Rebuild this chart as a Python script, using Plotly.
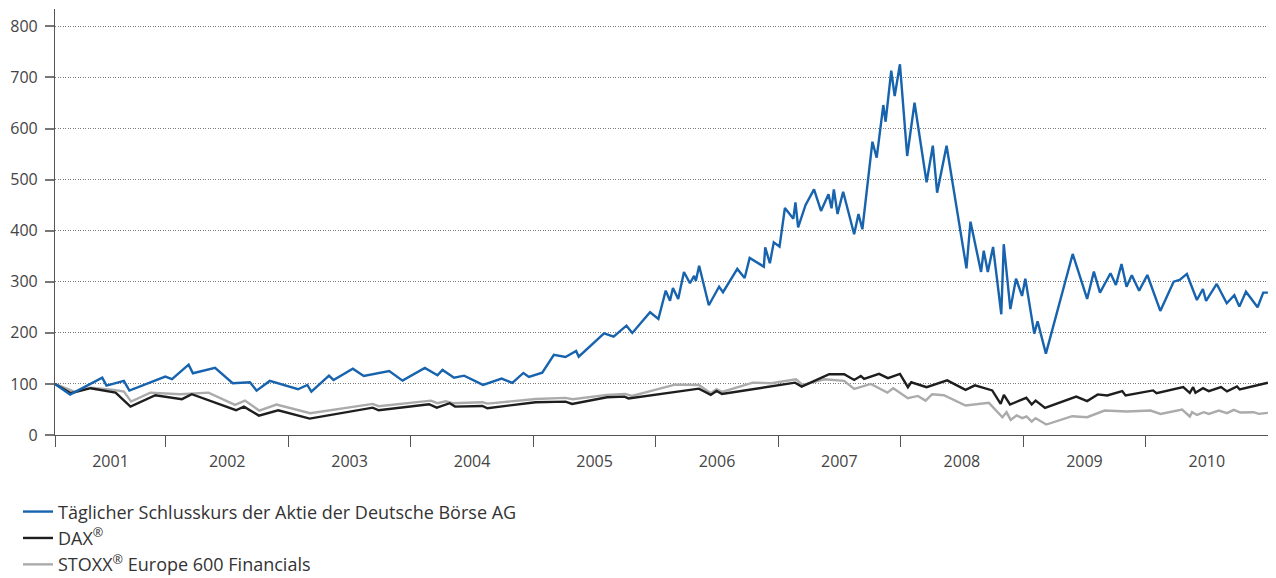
import datetime as dt
import plotly.graph_objects as go

# ---- data (decimal year, index value; 05.02.2001 = 100) ----
db_t = [2001.093, 2001.217, 2001.290, 2001.479, 2001.514, 2001.656, 2001.701, 2001.994, 2002.049, 2002.185,
        2002.220, 2002.401, 2002.545, 2002.686, 2002.740, 2002.848, 2003.079, 2003.155, 2003.188, 2003.332,
        2003.369, 2003.527, 2003.616, 2003.824, 2003.933, 2004.115, 2004.218, 2004.259, 2004.353, 2004.435,
        2004.589, 2004.741, 2004.828, 2004.918, 2004.963, 2005.072, 2005.167, 2005.262, 2005.349, 2005.370,
        2005.577, 2005.655, 2005.760, 2005.808, 2005.953, 2006.021, 2006.081, 2006.116, 2006.140, 2006.183,
        2006.230, 2006.279, 2006.313, 2006.327, 2006.354, 2006.433, 2006.517, 2006.549, 2006.666, 2006.726,
        2006.767, 2006.883, 2006.894, 2006.932, 2006.964, 2007.011, 2007.055, 2007.124, 2007.141, 2007.163,
        2007.224, 2007.293, 2007.350, 2007.411, 2007.436, 2007.455, 2007.485, 2007.531, 2007.621, 2007.656,
        2007.688, 2007.770, 2007.805, 2007.859, 2007.878, 2007.924, 2007.952, 2007.995, 2008.054, 2008.114,
        2008.212, 2008.263, 2008.298, 2008.375, 2008.537, 2008.570, 2008.656, 2008.678, 2008.711, 2008.754,
        2008.821, 2008.841, 2008.895, 2008.941, 2008.990, 2009.017, 2009.090, 2009.117, 2009.185, 2009.404,
        2009.522, 2009.577, 2009.627, 2009.713, 2009.757, 2009.803, 2009.844, 2009.887, 2009.947, 2010.014,
        2010.120, 2010.229, 2010.278, 2010.337, 2010.419, 2010.468, 2010.494, 2010.581, 2010.663, 2010.725,
        2010.766, 2010.820, 2010.915, 2010.961, 2010.999]
db_v = [100, 79.1, 88.3, 112.3, 96.7, 105.9, 86.9, 114.3, 109.2, 137.8,
        120.9, 131.3, 101.4, 103.3, 86.9, 105.9, 89.6, 98.0, 84.9, 116.2,
        107.8, 129.9, 115.7, 125.4, 106.5, 131.3, 117.0, 127.4, 112.3, 116.2,
        98.0, 110.4, 102.0, 121.5, 113.7, 122.1, 156.8, 152.8, 164.6, 153.4,
        199.2, 192.6, 214.1, 199.8, 240.3, 227.2, 282.6, 263.0, 287.9, 266.3,
        319.2, 297.1, 311.4, 301.6, 331.5, 254.0, 290.4, 279.5, 325.1, 307.4,
        346.6, 329.6, 367.5, 336.2, 377.3, 368.7, 444.4, 423.5, 455.2, 406.7,
        450.3, 481.0, 438.6, 471.2, 443.8, 481.0, 432.7, 476.3, 393.0, 432.7,
        402.8, 574.2, 542.9, 646.0, 613.3, 713.1, 663.6, 725.7, 546.2, 650.5,
        494.7, 566.4, 474.4, 566.4, 326.4, 417.6, 319.2, 360.9, 319.2, 368.1,
        236.4, 373.6, 246.4, 306.1, 272.2, 306.1, 198.4, 222.7, 159.3, 354.4,
        266.3, 319.8, 278.7, 316.6, 293.7, 334.8, 290.4, 312.7, 282.6, 313.3,
        242.9, 300.2, 303.5, 315.3, 264.4, 285.9, 262.4, 295.7, 257.9, 273.6,
        251.3, 280.6, 250.1, 278.7, 278.7]

dax_t = [2001.093, 2001.222, 2001.384, 2001.588, 2001.710, 2001.913, 2002.130, 2002.211, 2002.572, 2002.637,
         2002.759, 2002.917, 2003.174, 2003.689, 2003.738, 2004.150, 2004.212, 2004.318, 2004.361, 2004.584,
         2004.625, 2005.018, 2005.262, 2005.316, 2005.601, 2005.744, 2005.777, 2006.352, 2006.449, 2006.496,
         2006.541, 2007.138, 2007.192, 2007.417, 2007.539, 2007.621, 2007.675, 2007.702, 2007.824, 2007.897,
         2007.995, 2008.060, 2008.087, 2008.212, 2008.380, 2008.530, 2008.606, 2008.747, 2008.816, 2008.842,
         2008.892, 2009.025, 2009.069, 2009.101, 2009.178, 2009.433, 2009.522, 2009.609, 2009.686, 2009.809,
         2009.836, 2010.061, 2010.089, 2010.307, 2010.361, 2010.388, 2010.407, 2010.469, 2010.516, 2010.616,
         2010.665, 2010.747, 2010.769, 2010.999]
dax_v = [100, 81.8, 91.6, 83.0, 55.6, 77.9, 70.1, 79.8, 48.5, 55.6,
         38.0, 48.5, 32.1, 53.6, 48.5, 60.3, 53.6, 62.2, 55.6, 56.9,
         52.4, 64.2, 65.4, 60.9, 74.0, 75.1, 71.6, 90.8, 78.5, 86.3,
         80.4, 102.5, 94.7, 119.0, 119.0, 107.8, 115.7, 109.8, 119.6, 111.2,
         119.6, 93.5, 103.3, 93.5, 106.9, 88.5, 97.1, 87.3, 61.1, 78.7,
         59.7, 72.8, 59.7, 67.5, 53.2, 75.3, 66.3, 79.5, 77.5, 85.9,
         77.5, 87.3, 82.0, 93.7, 82.6, 93.7, 82.6, 91.8, 85.9, 93.7,
         85.3, 95.1, 89.2, 102.4]

stoxx_t = [2001.093, 2001.249, 2001.384, 2001.575, 2001.656, 2001.715, 2001.872, 2002.116, 2002.347, 2002.564,
           2002.645, 2002.762, 2002.903, 2003.179, 2003.689, 2003.738, 2004.164, 2004.218, 2004.286, 2004.340,
           2004.584, 2004.625, 2005.018, 2005.262, 2005.321, 2005.601, 2005.750, 2005.804, 2006.157, 2006.352,
           2006.449, 2006.496, 2006.541, 2006.793, 2006.943, 2007.146, 2007.200, 2007.377, 2007.539, 2007.621,
           2007.757, 2007.892, 2007.940, 2008.060, 2008.141, 2008.204, 2008.258, 2008.353, 2008.530, 2008.720,
           2008.830, 2008.864, 2008.897, 2008.946, 2008.992, 2009.027, 2009.069, 2009.101, 2009.188, 2009.400,
           2009.522, 2009.664, 2009.849, 2010.040, 2010.121, 2010.298, 2010.361, 2010.380, 2010.420, 2010.475,
           2010.516, 2010.598, 2010.665, 2010.720, 2010.774, 2010.882, 2010.925, 2010.999]
stoxx_v = [100, 84.9, 92.8, 88.3, 84.9, 65.4, 83.0, 79.8, 83.0, 58.9,
           67.3, 47.8, 59.5, 42.7, 60.9, 56.4, 67.3, 62.2, 66.1, 62.2,
           64.2, 61.4, 70.6, 72.6, 70.1, 78.5, 80.4, 76.5, 98.6, 98.0,
           81.8, 89.6, 84.3, 102.5, 101.4, 109.2, 98.0, 109.2, 105.9, 90.2,
           100.0, 83.0, 91.6, 72.0, 76.5, 67.3, 79.8, 77.9, 57.7, 63.0,
           34.8, 44.6, 29.6, 38.2, 32.9, 36.2, 26.4, 32.9, 20.5, 36.8,
           34.8, 47.9, 46.0, 47.9, 41.3, 49.9, 36.2, 44.6, 39.3, 44.6,
           41.3, 47.9, 42.7, 49.3, 44.0, 44.6, 41.3, 43.2]

years = list(range(2001, 2011))
y_ticks = [0, 100, 200, 300, 400, 500, 600, 700, 800]

names = ["Täglicher Schlusskurs der Aktie der Deutsche Börse AG", "DAX<sup>®</sup>",
         "STOXX<sup>®</sup> Europe 600 Financials"]


def to_date(y):
    yr = int(y)
    a = dt.datetime(yr, 1, 1)
    b = dt.datetime(yr + 1, 1, 1)
    return a + (b - a) * (y - yr)


x_start = to_date(db_t[0])
x_end = dt.datetime(2011, 1, 1)

fig = go.Figure()
fig.add_trace(go.Scatter(x=[to_date(t) for t in stoxx_t], y=stoxx_v, mode="lines", name=names[2],
                         line=dict(color="#ababab", width=2.4), legendrank=3))
fig.add_trace(go.Scatter(x=[to_date(t) for t in dax_t], y=dax_v, mode="lines", name=names[1],
                         line=dict(color="#1e1e1e", width=2.4), legendrank=2))
fig.add_trace(go.Scatter(x=[to_date(t) for t in db_t], y=db_v, mode="lines", name=names[0],
                         line=dict(color="#1763ad", width=2.4), legendrank=1))

# year labels centred in the visible part of each year; ticks at year boundaries
bounds = [dt.datetime(y, 1, 1) for y in years[1:]] + [x_end]
mids = []
for y in years:
    a = max(dt.datetime(y, 1, 1), x_start)
    b = dt.datetime(y + 1, 1, 1)
    mids.append(a + (b - a) / 2)

FONT = "Open Sans, Lato, sans-serif"

# the page body adds an 8px offset, so the figure is sized to fit inside it
fig.update_layout(
    width=1260, height=570,
    margin=dict(l=47, r=0, t=1, b=143, autoexpand=False),
    paper_bgcolor="white", plot_bgcolor="white",
    font=dict(family=FONT, size=16, color="#444444"),
    showlegend=True,
    legend=dict(orientation="v", x=-0.0305, xanchor="left", y=-0.137, yanchor="top",
                font=dict(family=FONT, size=18, color="#333333"), itemwidth=30, tracegroupgap=0,
                bgcolor="rgba(0,0,0,0)"),
    xaxis=dict(type="date", range=[x_start, x_end], tickmode="array", tickvals=mids,
               ticktext=[str(y) for y in years], ticks="", ticklabelstandoff=12, automargin=False,
               showgrid=False, zeroline=False, showline=True, linecolor="#555555", linewidth=1.2,
               tickfont=dict(family=FONT, size=16, color="#444444"),
               minor=dict(tickmode="array", tickvals=[x_start] + bounds, ticks="outside",
                          ticklen=11, tickcolor="#555555", tickwidth=1.2, showgrid=False)),
    yaxis=dict(range=[0, 834], tickmode="array", tickvals=y_ticks, ticks="outside", ticklen=9,
               tickcolor="#777777", tickwidth=1.5, showline=True, linecolor="#555555", linewidth=1.2,
               showgrid=True, gridcolor="#7a7a7a", gridwidth=1, griddash="1px,1.5px", zeroline=False,
               automargin=False, ticklabelstandoff=4,
               tickfont=dict(family=FONT, size=16, color="#444444")),
)

fig.write_html("out.html")
